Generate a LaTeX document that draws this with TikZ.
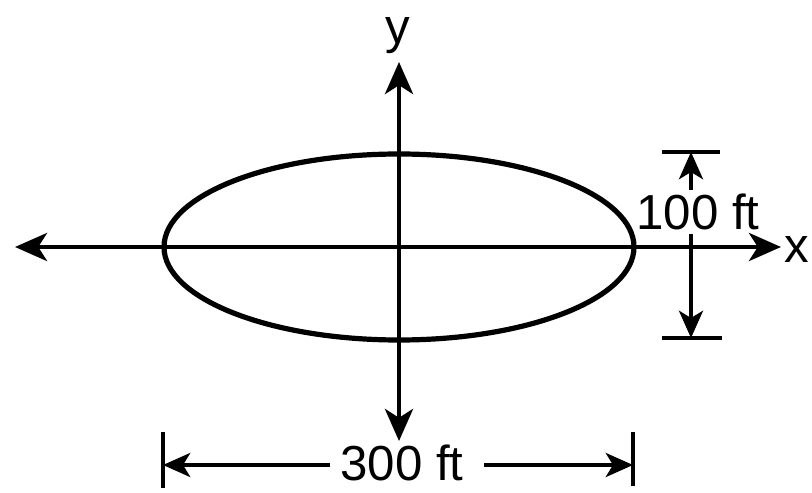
\documentclass[tikz,border=0pt]{standalone}
\usepackage{fontspec}
\setmainfont{Liberation Sans}
\usetikzlibrary{arrows.meta}
\begin{document}
\begin{tikzpicture}[
  x=0.25mm,y=-0.25mm,
  axis/.style={line width=1.2mm,
    {Stealth[length=8mm,width=7mm,inset=2.2mm]}-{Stealth[length=8mm,width=7mm,inset=2.2mm]}},
  dim/.style={line width=1mm,-{Stealth[length=6.8mm,width=6mm,inset=1.8mm]}},
  tick/.style={line width=1mm},
  lbl/.style={font=\fontsize{35}{40}\selectfont,inner sep=0pt}]
  \useasboundingbox (0,0) rectangle (812,493);

  % axes
  \coordinate (O) at (399,247);
  \coordinate (xl) at (15,247);
  \coordinate (xr) at (781,247);
  \coordinate (yt) at (399,62);
  \coordinate (yb) at (399,441);
  \draw[axis] (xl) -- (xr);
  \draw[axis] (yb) -- (yt);
  \node[lbl] (xlab) at (797,250) {x};
  \node[lbl] (ylab) at (398,36) {y};

  % ellipse
  \draw[line width=1.3mm] (O) ellipse[x radius=235,y radius=93];

  % height dimension
  \coordinate (rt) at (691,152);
  \coordinate (rb) at (691,338);
  \draw[tick] (662,152) -- (720,152);
  \draw[tick] (662,338) -- (722,338);
  \node[lbl] (h) at (698,212) {100 ft};
  \draw[dim] (691,190) -- (rt);
  \draw[dim] (691,234) -- (rb);

  % width dimension
  \coordinate (bl) at (163,465);
  \coordinate (br) at (633,465);
  \draw[tick] (163,432) -- (163,488);
  \draw[tick] (633,432) -- (633,486);
  \node[lbl] (w) at (402,463) {300 ft};
  \draw[dim] ([xshift=-2.5mm]w.west |- bl) -- (bl);
  \draw[dim] ([xshift=5mm]w.east |- br) -- (br);
\end{tikzpicture}
\end{document}
